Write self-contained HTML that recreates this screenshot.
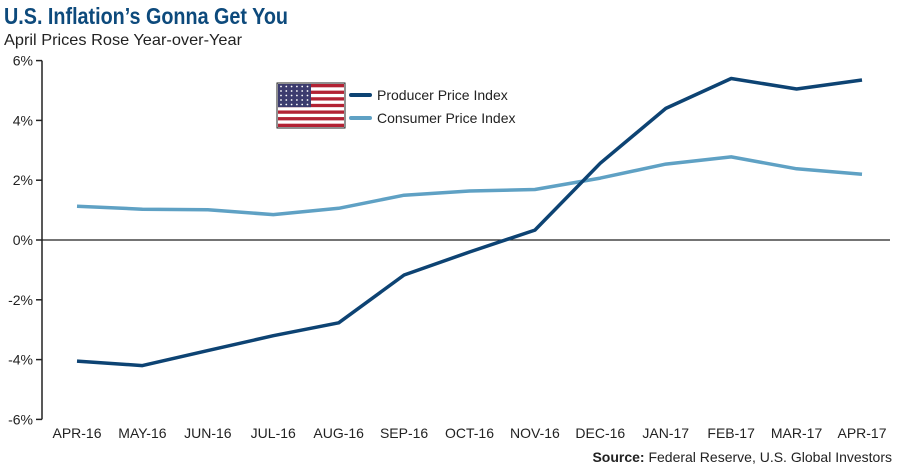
<!DOCTYPE html>
<html><head><meta charset="utf-8"><style>
body{margin:0;background:#fff;width:900px;height:470px;overflow:hidden;font-family:"Liberation Sans",Arial,sans-serif}
</style></head><body>
<svg width="900" height="470" xmlns="http://www.w3.org/2000/svg" id="chart">
<text x="4" y="24" font-size="23" font-weight="bold" fill="#0d4a7c" textLength="284" lengthAdjust="spacingAndGlyphs">U.S. Inflation’s Gonna Get You</text>
<text x="4" y="45" font-size="16" fill="#222" textLength="238" lengthAdjust="spacingAndGlyphs">April Prices Rose Year-over-Year</text>
<g id="axes"></g>
<g id="series"></g>
<g>
<g id="flag"></g>
<line x1="351" y1="95" x2="370" y2="95" stroke="#0d4373" stroke-width="4" stroke-linecap="round"/>
<text x="377" y="100" font-size="14" fill="#222">Producer Price Index</text>
<line x1="351" y1="118" x2="370" y2="118" stroke="#5fa1c4" stroke-width="4" stroke-linecap="round"/>
<text x="377" y="123" font-size="14" fill="#222">Consumer Price Index</text>
</g>
<text x="892" y="462" font-size="14" fill="#222" text-anchor="end"><tspan font-weight="bold">Source:</tspan> Federal Reserve, U.S. Global Investors</text>
</svg>
<script>
const categories=["APR-16","MAY-16","JUN-16","JUL-16","AUG-16","SEP-16","OCT-16","NOV-16","DEC-16","JAN-17","FEB-17","MAR-17","APR-17"];
const ppiValues=[-4.05,-4.2,-3.7,-3.2,-2.77,-1.17,-0.4,0.33,2.57,4.4,5.4,5.05,5.35];
const cpiValues=[1.13,1.03,1.01,0.85,1.06,1.5,1.64,1.69,2.07,2.54,2.78,2.38,2.2];
const yTicks=[6,4,2,0,-2,-4,-6];
const NS="http://www.w3.org/2000/svg";
function x(i){return 77+i*(862-77)/(categories.length-1);}
function y(v){return 240-v*29.9;}
function mk(t,a,p){const e=document.createElementNS(NS,t);for(const k in a)e.setAttribute(k,a[k]);p.appendChild(e);return e;}
const axes=document.getElementById('axes');
let ax=mk('line',{x1:42,y1:y(6),x2:42,y2:y(-6),stroke:'#222','stroke-width':1.5},axes);


yTicks.forEach(v=>{
 const t=mk('line',{x1:36,y1:y(v),x2:42,y2:y(v),stroke:'#222','stroke-width':1.5},axes);
 
 
 const l=mk('text',{x:33,y:y(v)+5,'font-size':14,fill:'#222','text-anchor':'end'},axes);
 l.textContent=v+'%';
 
 
});
const z=mk('line',{x1:42,y1:y(0),x2:890,y2:y(0),stroke:'#222','stroke-width':1.2},axes);


categories.forEach((c,i)=>{
 const l=mk('text',{x:x(i),y:438,'font-size':14,fill:'#222','text-anchor':'middle'},axes);
 l.textContent=c;
 
 
});
const s=document.getElementById('series');
function line(vals,col,name){
 const p=mk('path',{d:vals.map((v,i)=>(i?'L':'M')+x(i).toFixed(1)+','+y(v).toFixed(1)).join(''),fill:'none',stroke:col,'stroke-width':3.5,'stroke-linejoin':'round'},s);
 
 
}
line(cpiValues,'#5fa1c4','cpi-line');
line(ppiValues,'#0d4373','ppi-line');
// flag
const f=document.getElementById('flag');
mk('rect',{x:277,y:83,width:68,height:45,fill:'#fff',stroke:'#222','stroke-width':1},f);
for(let k=0;k<13;k+=2)mk('rect',{x:278,y:84+k*43/13,width:66,height:43/13,fill:'#b22234'},f);
mk('rect',{x:278,y:84,width:33,height:43*7/13,fill:'#3c3b6e'},f);
for(let r=0;r<5;r++)for(let c=0;c<6;c++)mk('circle',{cx:281+c*5.3,cy:86.5+r*4.5,r:0.9,fill:'#fff'},f);
</script>
</body></html>
